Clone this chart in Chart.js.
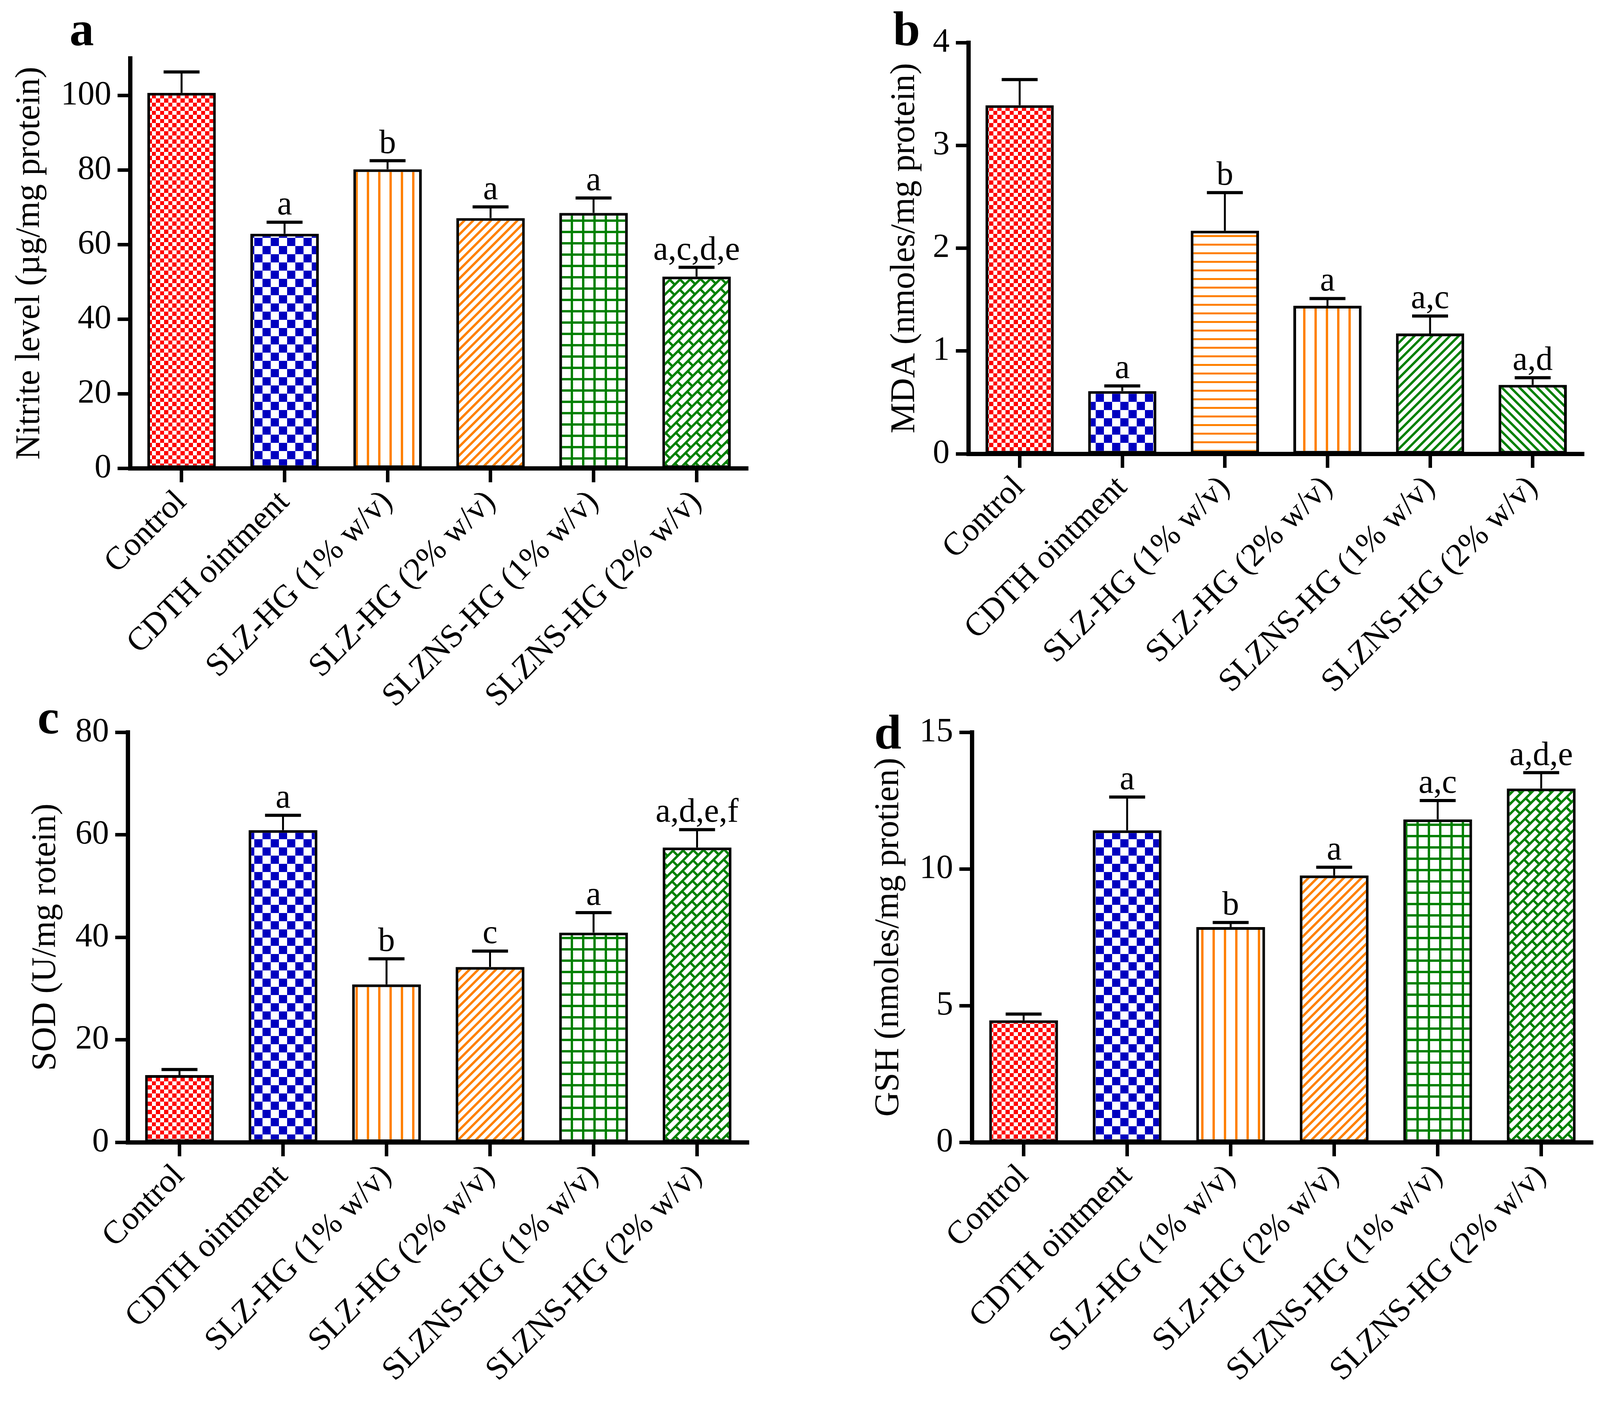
<!DOCTYPE html>
<html>
<head>
<meta charset="utf-8">
<script src="https://cdn.jsdelivr.net/npm/chart.js@4.4.1/dist/chart.umd.min.js"></script>
<style>
  html, body { margin: 0; padding: 0; background: #fff; overflow: hidden; }
  #page { position: relative; width: 4098px; height: 3626px; background: #fff; }
  #page canvas { position: absolute; }
</style>
</head>
<body>
<div id="page">
  <canvas id="chartA"></canvas>
  <canvas id="chartB"></canvas>
  <canvas id="chartC"></canvas>
  <canvas id="chartD"></canvas>
</div>
<script>
// groups, same order in all four panels
const categories = ['Control', 'CDTH ointment', 'SLZ-HG (1% w/v)', 'SLZ-HG (2% w/v)', 'SLZNS-HG (1% w/v)', 'SLZNS-HG (2% w/v)'];

// a - nitrite
const nitriteMean = [100.7, 62.9, 80.2, 67.1, 68.5, 51.4];
const nitriteSem = [5.6, 3.1, 2.3, 3.0, 4.0, 2.5];
const nitriteSig = ['', 'a', 'b', 'a', 'a', 'a,c,d,e'];
const nitriteTicks = [0, 20, 40, 60, 80, 100];
const nitriteMax = 110;

// b - MDA
const mdaMean = [3.39, 0.61, 2.17, 1.44, 1.17, 0.67];
const mdaSem = [0.25, 0.05, 0.37, 0.07, 0.17, 0.07];
const mdaSig = ['', 'a', 'b', 'a', 'a,c', 'a,d'];
const mdaTicks = [0, 1, 2, 3, 4];
const mdaMax = 4;

// c - SOD
const sodMean = [13.1, 60.9, 30.8, 34.2, 40.9, 57.5];
const sodSem = [1.1, 2.9, 5.0, 3.1, 3.9, 3.5];
const sodSig = ['', 'a', 'b', 'c', 'a', 'a,d,e,f'];
const sodTicks = [0, 20, 40, 60, 80];
const sodMax = 80;

// d - GSH
const gshMean = [4.46, 11.41, 7.87, 9.76, 11.81, 12.94];
const gshSem = [0.23, 1.22, 0.17, 0.30, 0.69, 0.58];
const gshSig = ['', 'a', 'b', 'a', 'a,c', 'a,d,e'];
const gshTicks = [0, 5, 10, 15];
const gshMax = 15;

const FONT = "'Liberation Serif', 'Times New Roman', serif";
const RED = '#ff0000', BLUE = '#0000c0', ORANGE = '#ff8000', GREEN = '#008000';

Chart.defaults.color = '#000';
Chart.defaults.font.family = FONT;

// ---- hatch fills ----
function tile(w, h, draw) {
    const c = document.createElement('canvas');
    c.width = w; c.height = h;
    const g = c.getContext('2d');
    g.fillStyle = '#fff';
    g.fillRect(0, 0, w, h);
    draw(g);
    return c;
}

function pat(ctx, t, angle) {
    const p = ctx.createPattern(t, 'repeat');
    if (angle) p.setTransform(new DOMMatrix().rotateSelf(angle));
    return p;
}

const fills = {
    redCheck: ctx => pat(ctx, tile(21, 21, g => {
        g.fillStyle = RED; g.fillRect(0, 0, 11, 11); g.fillRect(11, 11, 10, 10);
    })),
    blueCheck: ctx => pat(ctx, tile(42, 42, g => {
        g.fillStyle = BLUE; g.fillRect(0, 0, 21, 21); g.fillRect(21, 21, 21, 21);
    })),
    orangeV: ctx => pat(ctx, tile(29, 10, g => {
        g.fillStyle = ORANGE; g.fillRect(11, 0, 6, 10);
    })),
    orangeH: ctx => pat(ctx, tile(10, 22, g => {
        g.fillStyle = ORANGE; g.fillRect(0, 8, 10, 5);
    })),
    orangeDiag: ctx => pat(ctx, tile(10, 16, g => {
        g.fillStyle = ORANGE; g.fillRect(0, 5, 10, 6);
    }), -45),
    greenDiag: ctx => pat(ctx, tile(10, 16, g => {
        g.fillStyle = GREEN; g.fillRect(0, 5, 10, 6);
    }), -45),
    greenBack: ctx => pat(ctx, tile(10, 16, g => {
        g.fillStyle = GREEN; g.fillRect(0, 5, 10, 6);
    }), 45),
    greenGrid: ctx => pat(ctx, tile(29, 29, g => {
        g.fillStyle = GREEN; g.fillRect(11, 0, 6, 29); g.fillRect(0, 11, 29, 6);
    })),
    greenBrick: ctx => pat(ctx, tile(38, 36, g => {
        g.fillStyle = GREEN;
        g.fillRect(0, 6, 38, 6); g.fillRect(0, 24, 38, 6);
        g.fillRect(0, 12, 6, 12);
        g.fillRect(19, 30, 6, 6); g.fillRect(19, 0, 6, 6);
    }), -45)
};

// error bars (upward SEM) and significance letters
const errorBars = {
    id: 'errorBars',
    afterDatasetsDraw(chart, args, opts) {
        const ctx = chart.ctx;
        const y = chart.scales.y;
        const bars = chart.getDatasetMeta(0).data;
        ctx.save();
        ctx.strokeStyle = '#000';
        ctx.fillStyle = '#000';
        bars.forEach((bar, i) => {
            const top = y.getPixelForValue(opts.mean[i] + opts.sem[i]);
            ctx.lineWidth = 5;
            ctx.beginPath();
            ctx.moveTo(bar.x, bar.y);
            ctx.lineTo(bar.x, top);
            ctx.stroke();
            ctx.lineWidth = 8;
            ctx.beginPath();
            ctx.moveTo(bar.x - 46, top);
            ctx.lineTo(bar.x + 46, top);
            ctx.stroke();
            if (opts.sig[i]) {
                ctx.font = '86px ' + FONT;
                ctx.textAlign = 'center';
                ctx.textBaseline = 'alphabetic';
                ctx.fillText(opts.sig[i], bar.x, top - 20);
            }
        });
        ctx.restore();
    }
};

const panelLetter = {
    id: 'panelLetter',
    afterDraw(chart, args, opts) {
        const ctx = chart.ctx;
        ctx.save();
        ctx.font = 'bold 125px ' + FONT;
        ctx.fillStyle = '#000';
        ctx.textAlign = 'left';
        ctx.textBaseline = 'alphabetic';
        ctx.fillText(opts.text, opts.x, opts.y);
        ctx.restore();
    }
};

function makeChart(id, p) {
    const canvas = document.getElementById(id);
    canvas.width = p.box[2];
    canvas.height = p.box[3];
    canvas.style.left = p.box[0] + 'px';
    canvas.style.top = p.box[1] + 'px';
    const ctx = canvas.getContext('2d');

    const yWidth = p.area[0] - p.box[0];
    const padRight = p.box[0] + p.box[2] - p.area[2];
    const padTop = p.area[1] - p.box[1];
    const xHeight = p.box[1] + p.box[3] - p.area[3];

    return new Chart(ctx, {
        type: 'bar',
        data: {
            labels: categories,
            datasets: [{
                data: p.mean,
                backgroundColor: p.fills.map(f => fills[f](ctx)),
                borderColor: '#000',
                borderWidth: 7,
                borderSkipped: false,
                categoryPercentage: 1,
                barPercentage: 0.665
            }]
        },
        options: {
            responsive: false,
            devicePixelRatio: 1,
            animation: false,
            layout: { padding: { top: padTop, right: padRight, left: 0, bottom: 0 } },
            plugins: {
                legend: { display: false },
                tooltip: { enabled: false },
                errorBars: { mean: p.mean, sem: p.sem, sig: p.sig },
                panelLetter: { text: p.letter[0], x: p.letter[1] - p.box[0], y: p.letter[2] - p.box[1] }
            },
            scales: {
                x: {
                    grid: { display: true, offset: false, drawOnChartArea: false, drawTicks: true,
                            tickLength: 36, tickWidth: 9, tickColor: '#000' },
                    border: { display: true, color: '#000', width: 11 },
                    ticks: { font: { size: 84, family: FONT }, color: '#000', padding: 2,
                             minRotation: 45, maxRotation: 45, autoSkip: false },
                    afterFit: s => { s.height = xHeight; s.paddingLeft = 0; s.paddingRight = 0; }
                },
                y: {
                    min: 0,
                    max: p.max,
                    afterBuildTicks: s => { s.ticks = p.ticks.map(v => ({ value: v })); },
                    grid: { display: true, drawOnChartArea: false, drawTicks: true,
                            tickLength: 32, tickWidth: 9, tickColor: '#000' },
                    border: { display: true, color: '#000', width: 11 },
                    ticks: { font: { size: 86, family: FONT }, color: '#000', padding: 16 },
                    title: { display: true, text: p.title, color: '#000',
                             font: { size: 88, family: FONT, lineHeight: 1.2 },
                             padding: { top: p.titleCenter - p.box[0] - 52.8, bottom: 0 } },
                    afterFit: s => { s.width = yWidth; s.paddingTop = 0; s.paddingBottom = 0; }
                }
            }
        },
        plugins: [errorBars, panelLetter]
    });
}

const standardFills = ['redCheck', 'blueCheck', 'orangeV', 'orangeDiag', 'greenGrid', 'greenBrick'];

makeChart('chartA', {
    mean: nitriteMean, sem: nitriteSem, sig: nitriteSig, ticks: nitriteTicks, max: nitriteMax,
    title: 'Nitrite level (µg/mg protein)', fills: standardFills,
    box: [0, 0, 2049, 1900], area: [333, 149, 1915, 1199], titleCenter: 77, letter: ['a', 178, 116]
});

makeChart('chartB', {
    mean: mdaMean, sem: mdaSem, sig: mdaSig, ticks: mdaTicks, max: mdaMax,
    title: 'MDA (nmoles/mg protein)',
    fills: ['redCheck', 'blueCheck', 'orangeH', 'orangeV', 'greenDiag', 'greenBack'],
    box: [2049, 0, 2049, 1900], area: [2479, 109, 4055, 1162], titleCenter: 2317, letter: ['b', 2286, 116]
});

makeChart('chartC', {
    mean: sodMean, sem: sodSem, sig: sodSig, ticks: sodTicks, max: sodMax,
    title: 'SOD (U/mg rotein)', fills: standardFills,
    box: [0, 1750, 2049, 1876], area: [327, 1875, 1917, 2925], titleCenter: 118, letter: ['c', 96, 1878]
});

makeChart('chartD', {
    mean: gshMean, sem: gshSem, sig: gshSig, ticks: gshTicks, max: gshMax,
    title: 'GSH (nmoles/mg protien)', fills: standardFills,
    box: [2049, 1750, 2049, 1876], area: [2488, 1875, 4078, 2925], titleCenter: 2276, letter: ['d', 2238, 1917]
});
</script>
</body>
</html>
